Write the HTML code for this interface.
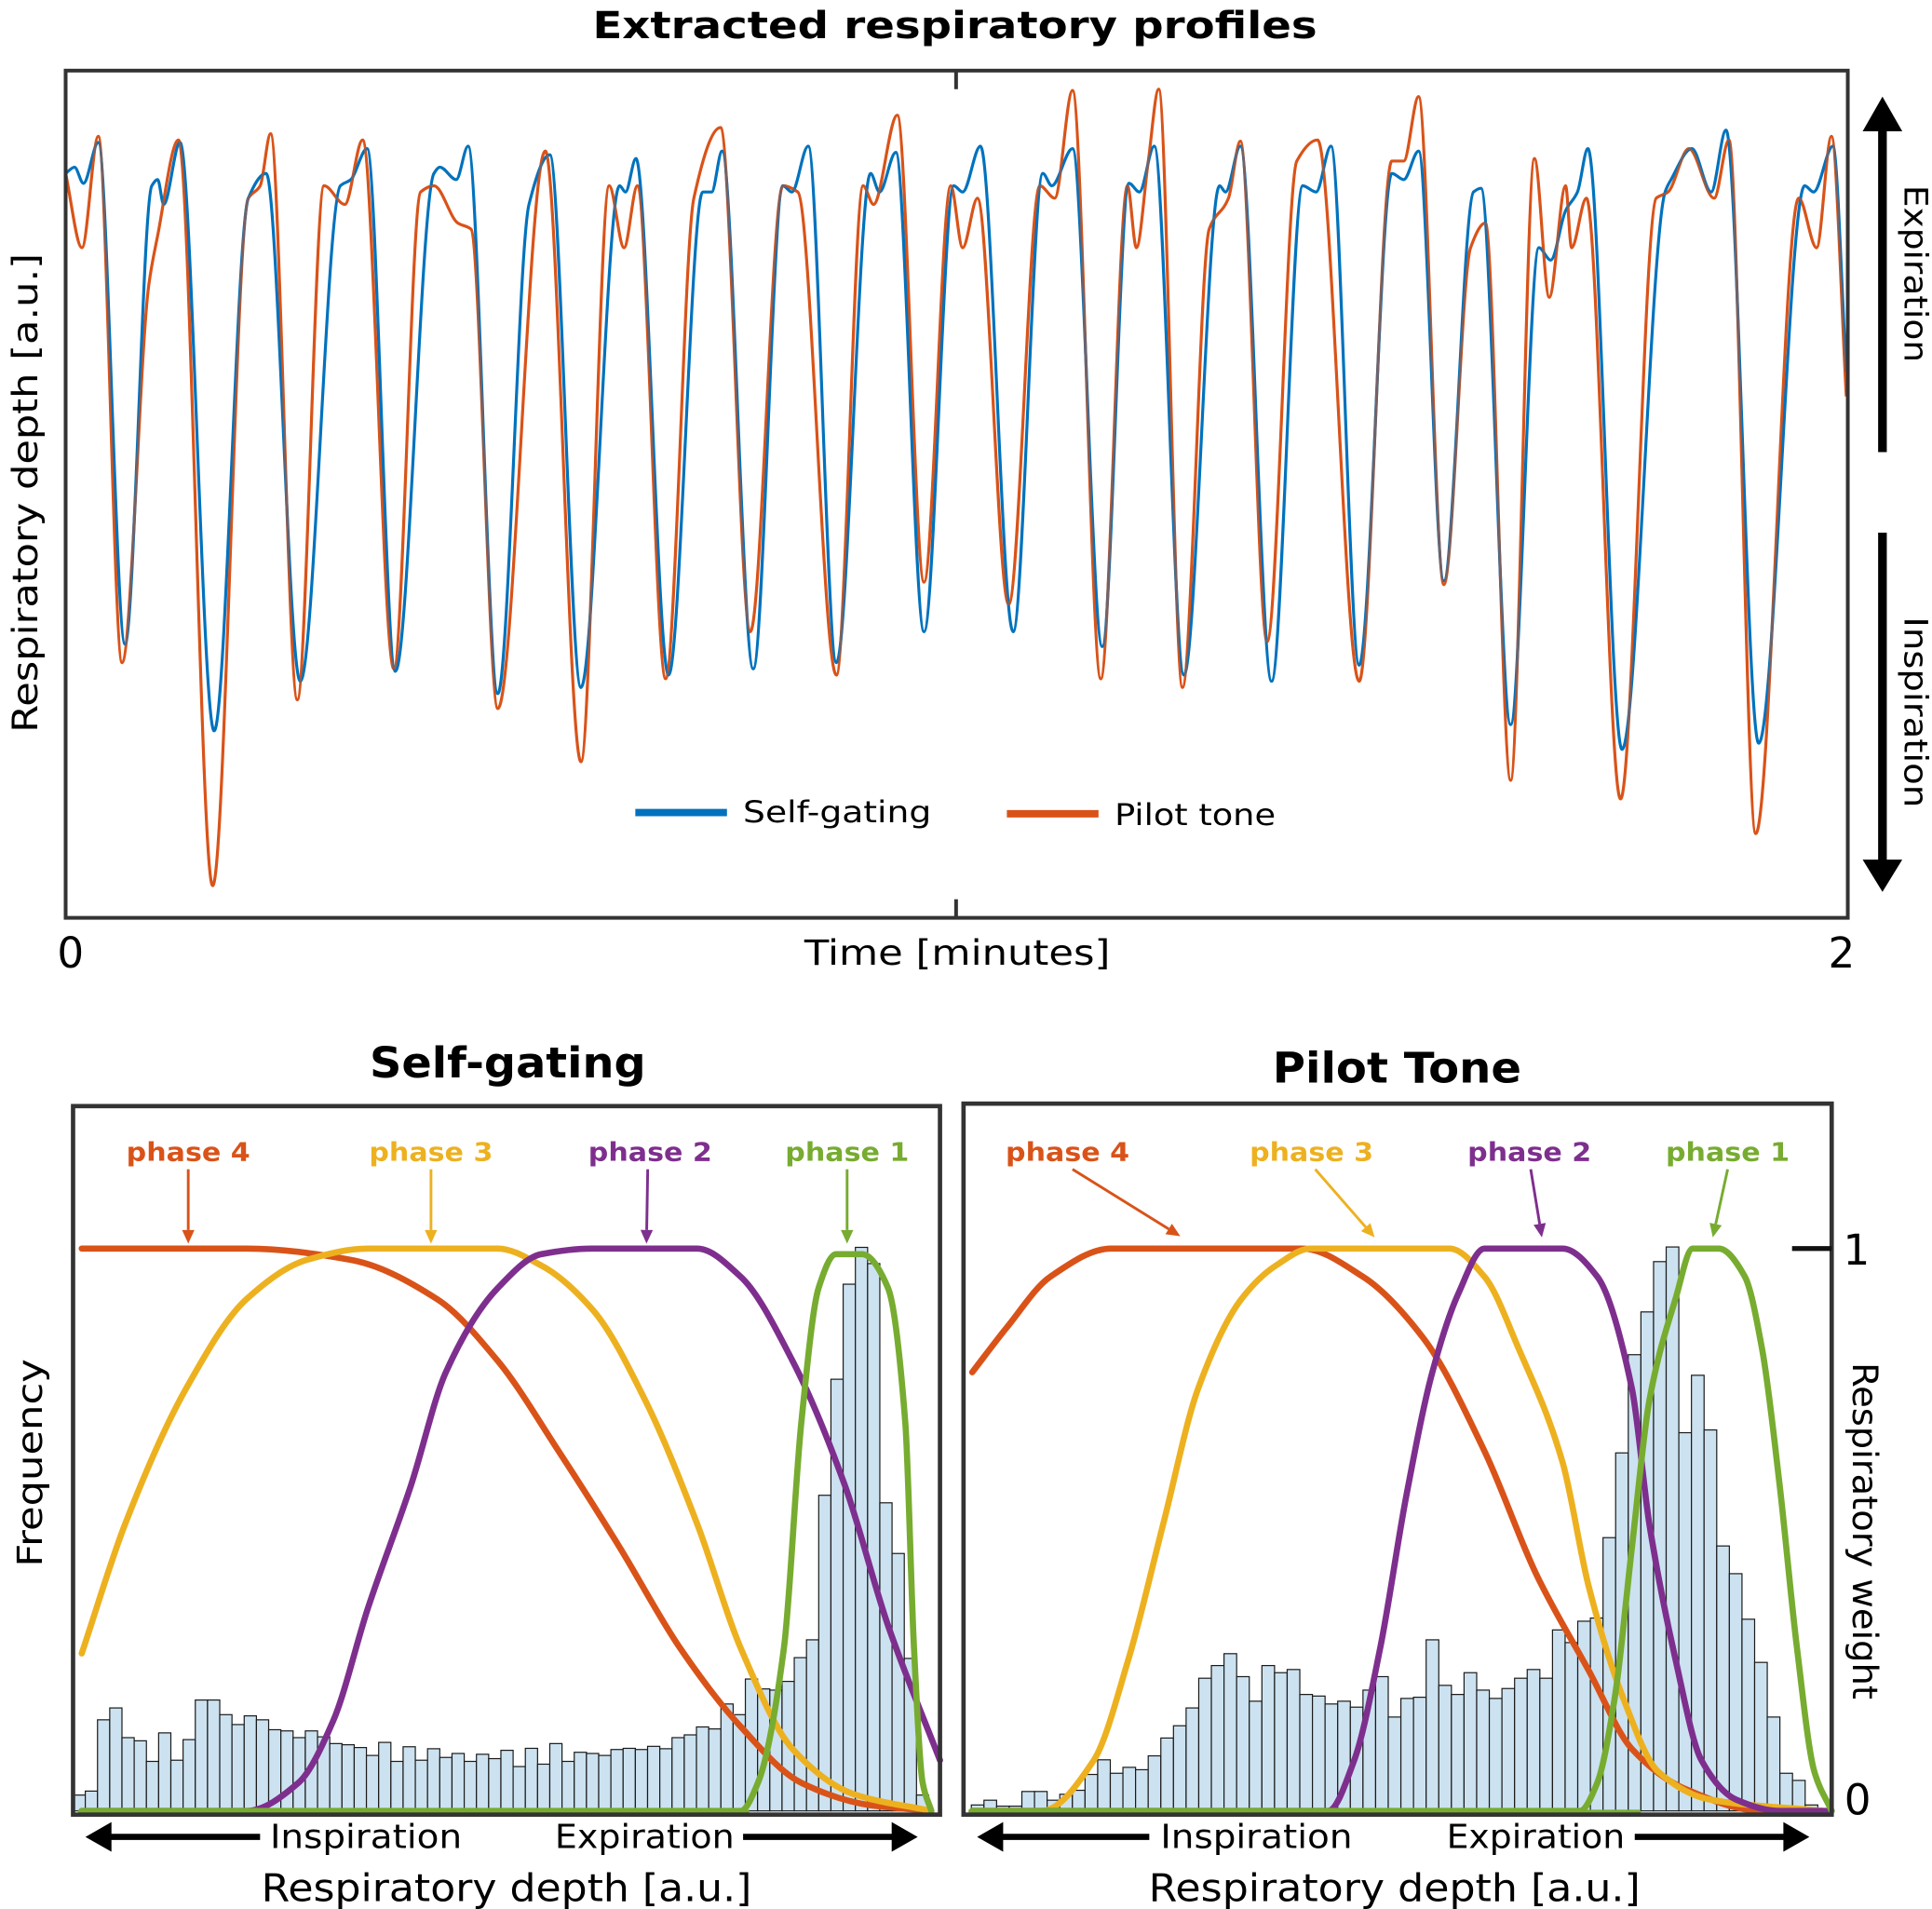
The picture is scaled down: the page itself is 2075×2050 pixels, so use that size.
<!DOCTYPE html>
<html><head><meta charset="utf-8"><title>Respiratory profiles</title>
<style>
html,body{margin:0;padding:0;background:#fff;}
svg{display:block;}
text{font-family:"DejaVu Sans","Liberation Sans",sans-serif;fill:#000;}
</style></head>
<body>
<svg id="fig" xmlns="http://www.w3.org/2000/svg" width="2075" height="2050" viewBox="0 0 1560 1541.2">
  <rect x="0" y="0" width="1560" height="1541.2" fill="#fff"/>
  <text x="771" y="31" text-anchor="middle" font-size="30" font-weight="bold" textLength="585" lengthAdjust="spacingAndGlyphs">Extracted respiratory profiles</text>
  <g id="topSeries"></g>
  <rect x="53" y="57" width="1439" height="684" fill="none" stroke="#333" stroke-width="3"/>
  <line x1="772" y1="57" x2="772" y2="72" stroke="#333" stroke-width="3"/>
  <line x1="772" y1="726" x2="772" y2="741" stroke="#333" stroke-width="3"/>
  <text x="57" y="781" text-anchor="middle" font-size="34">0</text>
  <text x="1487" y="781" text-anchor="middle" font-size="34">2</text>
  <text x="773" y="779" text-anchor="middle" font-size="28" textLength="247" lengthAdjust="spacingAndGlyphs">Time [minutes]</text>
  <text transform="translate(30,398) rotate(-90)" text-anchor="middle" font-size="28" textLength="387" lengthAdjust="spacingAndGlyphs">Respiratory depth [a.u.]</text>
  <line x1="513" y1="656" x2="587" y2="656" stroke="#0072BD" stroke-width="6"/>
  <text x="600" y="664" font-size="24" textLength="152" lengthAdjust="spacingAndGlyphs">Self-gating</text>
  <line x1="813" y1="657" x2="887" y2="657" stroke="#D95319" stroke-width="6"/>
  <text x="900" y="666" font-size="24" textLength="130" lengthAdjust="spacingAndGlyphs">Pilot tone</text>
  <line x1="1520" y1="365" x2="1520" y2="104" stroke="#000" stroke-width="7"/>
  <polygon points="1504,106 1536,106 1520,78" fill="#000"/>
  <text transform="translate(1538,221) rotate(90)" text-anchor="middle" font-size="26" textLength="143" lengthAdjust="spacingAndGlyphs">Expiration</text>
  <line x1="1520" y1="430" x2="1520" y2="696" stroke="#000" stroke-width="7"/>
  <polygon points="1504,694 1536,694 1520,720" fill="#000"/>
  <text transform="translate(1538,575) rotate(90)" text-anchor="middle" font-size="26" textLength="154" lengthAdjust="spacingAndGlyphs">Inspiration</text>

  <text x="410" y="870" text-anchor="middle" font-size="34" font-weight="bold" textLength="223" lengthAdjust="spacingAndGlyphs">Self-gating</text>
  <text x="1128" y="874" text-anchor="middle" font-size="34" font-weight="bold" textLength="201" lengthAdjust="spacingAndGlyphs">Pilot Tone</text>
  <g id="leftPanel"></g>
  <g id="rightPanel"></g>
  <rect x="59" y="893" width="700" height="572" fill="none" stroke="#333" stroke-width="3.5"/>
  <rect x="778" y="891" width="701" height="574" fill="none" stroke="#333" stroke-width="3.5"/>
  <text transform="translate(34,1181) rotate(-90)" text-anchor="middle" font-size="28" textLength="168" lengthAdjust="spacingAndGlyphs">Frequency</text>
  <line x1="1447" y1="1008" x2="1479" y2="1008" stroke="#111" stroke-width="4"/>
  <text x="1499" y="1021" text-anchor="middle" font-size="34">1</text>
  <text x="1500" y="1465" text-anchor="middle" font-size="34">0</text>
  <text transform="translate(1496,1236) rotate(90)" text-anchor="middle" font-size="28" textLength="272" lengthAdjust="spacingAndGlyphs">Respiratory weight</text>
  <line x1="86" y1="1483" x2="210" y2="1483" stroke="#000" stroke-width="5"/>
  <polygon points="69,1483 90,1471 90,1495" fill="#000"/>
  <text x="218" y="1492" font-size="27" textLength="155" lengthAdjust="spacingAndGlyphs">Inspiration</text>
  <text x="448" y="1492" font-size="27" textLength="145" lengthAdjust="spacingAndGlyphs">Expiration</text>
  <line x1="600" y1="1483" x2="724" y2="1483" stroke="#000" stroke-width="5"/>
  <polygon points="741,1483 720,1471 720,1495" fill="#000"/>
  <text x="409" y="1535" text-anchor="middle" font-size="31" textLength="396" lengthAdjust="spacingAndGlyphs">Respiratory depth [a.u.]</text>
  <line x1="806" y1="1483" x2="928" y2="1483" stroke="#000" stroke-width="5"/>
  <polygon points="789,1483 810,1471 810,1495" fill="#000"/>
  <text x="937" y="1492" font-size="27" textLength="155" lengthAdjust="spacingAndGlyphs">Inspiration</text>
  <text x="1168" y="1492" font-size="27" textLength="144" lengthAdjust="spacingAndGlyphs">Expiration</text>
  <line x1="1320" y1="1483" x2="1444" y2="1483" stroke="#000" stroke-width="5"/>
  <polygon points="1461,1483 1440,1471 1440,1495" fill="#000"/>
  <text x="1126" y="1535" text-anchor="middle" font-size="31" textLength="397" lengthAdjust="spacingAndGlyphs">Respiratory depth [a.u.]</text>
</svg>
<script>
// ---------- Top chart data (time in s, depth in a.u.) ----------
const pilotT = [0,1.1,2.2,3.8,5.6,6.2,7.6,9.9,12.3,13.1,13.8,15.6,17.4,18.8,20.0,22.1,23.9,24.8,26.4,27.3,29.1,32.3,34.7,36.6,37.6,38.5,40.4,42.3,44.1,46.1,48.3,49.3,51.9,53.7,54.4,56.0,57.8,59.6,60.4,61.4,63.5,65.6,66.6,67.8,69.7,71.5,72.1,72.9,73.6,75.2,77.0,78.3,79.1,80.9,82.9,84.3,87.1,89.3,90.1,91.1,92.8,94.6,95.6,97.3,98.9,99.9,101.0,101.4,102.4,104.7,107.1,107.9,109.3,111.0,112.0,113.8,116.7,117.9,118.9,119.9];
const pilotV = [60.1,54.1,63.1,20.6,51.1,55.1,62.8,2.6,58.1,59.1,63.3,17.6,59.1,57.6,62.8,20.1,58.6,59.1,56.1,55.6,16.9,61.9,12.6,59.1,54.1,59.1,19.3,58.1,63.8,23.1,59.1,58.6,19.6,59.1,57.6,64.8,27.1,59.1,54.1,58.1,25.3,59.1,58.1,66.8,19.3,59.1,54.1,61.1,66.9,18.6,55.6,58.1,62.7,22.3,61.1,62.8,19.1,61.1,61.1,66.3,26.9,54.1,56.1,11.1,61.3,50.1,59.1,54.1,58.1,9.6,58.1,58.6,62.1,58.1,62.8,6.8,58.1,54.1,63.1,42.1];
const selfT = [0,0.6,1.2,2.2,4.0,5.8,6.2,6.6,7.7,10.0,12.3,13.5,15.8,18.5,19.2,20.3,22.2,24.8,25.2,26.3,27.1,29.1,31.2,32.6,34.7,37.3,37.7,38.4,40.6,42.9,43.5,44.2,46.3,48.3,48.9,50.0,51.9,54.2,54.8,55.9,57.8,59.8,60.4,61.6,63.8,65.8,66.4,67.8,69.8,71.6,72.3,73.3,75.3,77.7,78.1,79.1,81.2,83.3,84.2,85.2,87.1,89.3,90.1,91.1,92.8,94.8,95.3,97.3,99.2,100.0,101.0,101.8,102.5,104.8,107.7,108.1,109.5,110.8,111.8,114.0,117.1,117.7,119.0,119.9];
const selfV = [60.1,60.6,59.3,62.6,22.1,59.1,59.6,57.6,62.6,15.1,58.1,60.1,19.1,59.1,59.6,62.1,19.9,60.1,60.6,59.6,62.3,18.1,57.6,61.6,18.6,59.1,58.6,61.3,19.6,58.6,58.6,61.9,20.1,59.1,58.6,62.3,20.6,60.1,58.6,61.8,23.1,59.1,58.6,62.3,23.1,60.1,59.1,62.1,21.9,59.3,58.6,62.3,19.6,59.1,58.6,62.3,19.1,59.1,58.6,62.3,20.4,60.1,59.6,61.9,27.2,58.6,58.9,15.6,54.1,53.1,57.1,58.6,62.1,13.6,58.6,59.6,62.1,58.6,63.6,14.1,59.1,58.6,62.3,44.1];
const timeDomain = [0,120];
const depthDomain = [0,68.4];

// ---------- Bottom panels data ----------
const sgCounts = [4,5,23,26,18.5,17.7,12.5,19.7,12.8,18,28,28,24.3,21.8,24,23,20.5,20.2,18.5,20.2,18.7,17,16.7,16,14,17.3,12.5,16.2,12.8,15.7,13.5,14.5,12.5,14.3,13.2,15.3,11.2,15.8,11.8,17,12.5,14.8,14.5,14,15.5,15.8,15.5,16.3,15.7,18.5,19.2,21.2,20.7,27,24.3,33.3,30.8,30.5,32.7,38.7,43.2,79.7,109,133,142.3,138.2,77.8,65,38.5,4];
const ptCounts = [1.5,2.7,1.2,1.2,4.9,4.9,2.7,4.2,5.2,9.2,12.9,9.5,11,10.4,13.9,18.4,21.5,26,33.5,36.7,39.7,33.9,27.7,36.7,34.9,35.7,29.4,29,27,27.7,26.2,30.5,33.9,23.7,28.4,28.7,43.2,31.7,29.4,34.9,30.5,28.4,30.9,33.5,35.7,33.5,45.7,42.5,47.9,48.7,69,90.4,115.2,126,138.7,142.4,95.5,110,96.2,66.9,59.9,48.4,37.5,23.7,9.5,7.7,1.5];
const sgHistRange = [0,98.7];
const ptHistRange = [0.9,98.4];
const freqMax = 142;
const sgP4D = [1,20,32,42,49,56,63,70,77,84,92,99];
const sgP4W = [1.0,1.0,0.98,0.91,0.80,0.64,0.47,0.29,0.15,0.05,0.01,0];
const sgP3D = [1,6,13,20,27,34,49,54,60,66,72,77,83,90,99];
const sgP3W = [0.28,0.51,0.75,0.91,0.98,1,1,0.97,0.89,0.73,0.51,0.29,0.11,0.03,0];
const sgP2D = [1,20,26,30,34,39,43,49,54,60,72,77,83,89,94,100];
const sgP2W = [0,0,0.05,0.16,0.36,0.58,0.78,0.93,0.99,1,1,0.95,0.80,0.58,0.33,0.09];
const sgP1D = [1,77,79,82,84,86,88,91,94,96,97,98,99];
const sgP1W = [0,0,0.05,0.29,0.69,0.93,0.99,0.99,0.93,0.69,0.29,0.05,0];
const ptP4D = [1,5,10,17,25,39,46,53,60,66,72,77,83,92,99];
const ptP4W = [0.78,0.86,0.95,1,1,1,0.95,0.84,0.64,0.42,0.25,0.11,0.04,0,0];
const ptP3D = [1,9,15,19,23,27,32,36,40,56,60,64,69,72,76,80,86,99];
const ptP3W = [0,0,0.09,0.27,0.51,0.75,0.91,0.97,1,1,0.95,0.82,0.62,0.40,0.20,0.07,0.02,0];
const ptP2D = [1,42,45,48,51,54,57,60,69,73,77,79,82,85,89,94,100];
const ptP2W = [0,0,0.09,0.29,0.56,0.78,0.92,1,1,0.95,0.75,0.51,0.27,0.09,0.02,0,0];
const ptP1D = [1,71,73,75,77,79,82,84,87,90,92,94,96,98,100];
const ptP1W = [0,0,0.05,0.20,0.47,0.73,0.91,1,1,0.95,0.82,0.58,0.29,0.07,0];
const phaseLabels = ["phase 4","phase 3","phase 2","phase 1"];
const phaseColors = ["#D95319","#EDB120","#7E2F8E","#77AC30"];

const NS = "http://www.w3.org/2000/svg";
function mk(tag, attrs, parent){
  const e = document.createElementNS(NS, tag);
  for (const k in attrs) e.setAttribute(k, attrs[k]);
  parent.appendChild(e);
  return e;
}
// monotone cubic (Fritsch-Carlson) path, no overshoot
function smoothPath(pts){
  const n = pts.length;
  const dx = [], s = [], m = [];
  for (let i = 0; i < n-1; i++){
    dx.push(pts[i+1][0]-pts[i][0]);
    s.push((pts[i+1][1]-pts[i][1]) / (dx[i] || 1e-6));
  }
  m[0] = s[0]; m[n-1] = s[n-2];
  for (let i = 1; i < n-1; i++){
    if (s[i-1]*s[i] <= 0) m[i] = 0;
    else {
      const w1 = 2*dx[i]+dx[i-1], w2 = dx[i]+2*dx[i-1];
      m[i] = (w1+w2)/(w1/s[i-1]+w2/s[i]);
    }
  }
  let d = "M" + pts[0][0].toFixed(2) + "," + pts[0][1].toFixed(2);
  for (let i = 0; i < n-1; i++){
    const h = dx[i]/3;
    d += " C" + (pts[i][0]+h).toFixed(2) + "," + (pts[i][1]+m[i]*h).toFixed(2) + " " +
         (pts[i+1][0]-h).toFixed(2) + "," + (pts[i+1][1]-m[i+1]*h).toFixed(2) + " " +
         pts[i+1][0].toFixed(2) + "," + pts[i+1][1].toFixed(2);
  }
  return d;
}

const topX = t => 53 + (t - timeDomain[0]) / (timeDomain[1]-timeDomain[0]) * 1439;
const topY = v => 741 - (v - depthDomain[0]) / (depthDomain[1]-depthDomain[0]) * 684;
const topG = document.getElementById("topSeries");
const sgPts = selfT.map((t,i)=>[topX(t), topY(selfV[i])]);
const ptPts = pilotT.map((t,i)=>[topX(t), topY(pilotV[i])]);
const ptLine = mk("path", {d: smoothPath(ptPts), fill:"none", stroke:"#D95319", "stroke-width":2.4, "stroke-linejoin":"round"}, topG);


const sgLine = mk("path", {d: smoothPath(sgPts), fill:"none", stroke:"#0072BD", "stroke-width":2.4, "stroke-linejoin":"round"}, topG);


const ptTop = mk("path", {d: smoothPath(ptPts), fill:"none", stroke:"#D95319", "stroke-width":2, "stroke-opacity":0.55}, topG);



function drawPanel(g, left, width, counts, histRange, curves, labelPos, arrowEnds, prefix){
  const px = d => left + d/100*width;
  const wy = w => 1462 - w*454;
  const fy = c => 1462 - c/freqMax*454;
  const bw = (histRange[1]-histRange[0]) / counts.length;
  counts.forEach((c,i)=>{
    const x0 = px(histRange[0] + i*bw), x1 = px(histRange[0] + (i+1)*bw);
    const r = mk("rect", {x:x0, y:fy(c), width:x1-x0, height:1462-fy(c), fill:"#CCE2F0", stroke:"#1a1a1a", "stroke-width":0.9}, g);
    
    
  });
  curves.forEach((cv,k)=>{
    const pts = cv[0].map((d,i)=>[px(d), wy(cv[1][i])]);
    const p = mk("path", {d: smoothPath(pts), fill:"none", stroke:phaseColors[k], "stroke-width":5, "stroke-linecap":"round"}, g);
    
    
    const lp = labelPos[k], ae = arrowEnds[k];
    const t = mk("text", {x:lp[0], y:937, "text-anchor":"middle", "font-size":21, "font-weight":"bold", style:"fill:"+phaseColors[k], textLength:100, lengthAdjust:"spacingAndGlyphs"}, g);
    t.textContent = phaseLabels[k];
    
    
    const ax0 = lp[1], ay0 = 944, ax1 = ae[0], ay1 = ae[1];
    const ang = Math.atan2(ay1-ay0, ax1-ax0);
    const hl = 11, hw = 5;
    const bx = ax1 - hl*Math.cos(ang), by = ay1 - hl*Math.sin(ang);
    const ln = mk("line", {x1:ax0, y1:ay0, x2:bx, y2:by, stroke:phaseColors[k], "stroke-width":2.2}, g);
    
    
    const hx1 = bx + hw*Math.sin(ang), hy1 = by - hw*Math.cos(ang);
    const hx2 = bx - hw*Math.sin(ang), hy2 = by + hw*Math.cos(ang);
    const hd = mk("polygon", {points: ax1+","+ay1+" "+hx1+","+hy1+" "+hx2+","+hy2, fill:phaseColors[k]}, g);
    
    
  });
  const base = mk("line", {x1:left+4, y1:1462.5, x2:left+width*0.78, y2:1462.5, stroke:"#77AC30", "stroke-width":3}, g);
  
  
}
drawPanel(document.getElementById("leftPanel"), 59, 700, sgCounts, sgHistRange,
  [[sgP4D,sgP4W],[sgP3D,sgP3W],[sgP2D,sgP2W],[sgP1D,sgP1W]],
  [[152,152],[348,348],[525,523],[684,684]],
  [[152,1004],[348,1004],[522,1004],[684,1004]], "self-gating");
drawPanel(document.getElementById("rightPanel"), 778, 701, ptCounts, ptHistRange,
  [[ptP4D,ptP4W],[ptP3D,ptP3W],[ptP2D,ptP2W],[ptP1D,ptP1W]],
  [[862,866],[1059,1062],[1235,1236],[1395,1395]],
  [[953,998],[1110,999],[1245,999],[1383,999]], "pilot-tone");
</script>
</body></html>
